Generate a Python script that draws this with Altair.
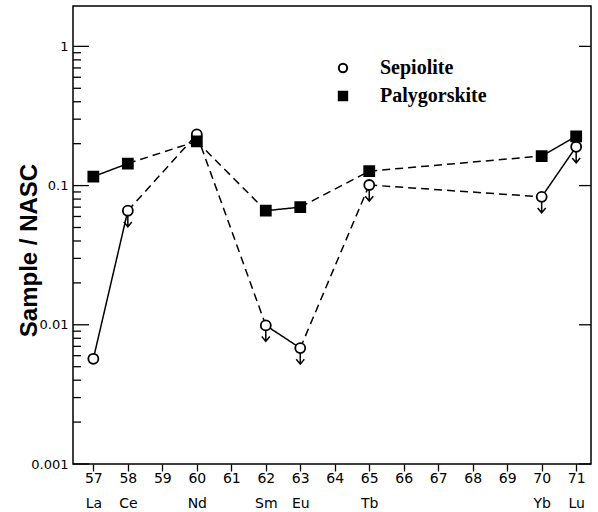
import json
import altair as alt
import pandas as pd

# ---- data ----
Z = [57, 58, 60, 62, 63, 65, 70, 71]
SYMBOLS = ['La', 'Ce', 'Nd', 'Sm', 'Eu', 'Tb', 'Yb', 'Lu']
sepiolite = [0.0057, 0.066, 0.233, 0.0099, 0.0068, 0.101, 0.083, 0.19]
palygorskite = [0.116, 0.144, 0.208, 0.066, 0.070, 0.127, 0.163, 0.226]
sep_upper = [False, True, False, True, True, True, True, True]
SERIES = ['Sepiolite', 'Palygorskite']
x_ticks = list(range(57, 72))
y_major = [0.001, 0.01, 0.1, 1]
y_minor_mult = [2, 3, 4, 5, 6, 7, 8, 9]

# ---- tables ----
pts = pd.DataFrame(
    [{'series': 'Sepiolite', 'z': z, 'value': v} for z, v in zip(Z, sepiolite)] +
    [{'series': 'Palygorskite', 'z': z, 'value': v} for z, v in zip(Z, palygorskite)]
)
seg_rows = []
for name, vals in (('Sepiolite', sepiolite), ('Palygorskite', palygorskite)):
    for i in range(len(Z) - 1):
        seg_rows.append({'series': name, 'z': Z[i], 'z2': Z[i + 1],
                         'value': vals[i], 'value2': vals[i + 1],
                         'style': 'solid' if Z[i + 1] - Z[i] == 1 else 'dashed'})
segs = pd.DataFrame(seg_rows)
arrows = pd.DataFrame([{'z': z, 'value': v} for z, v, u in zip(Z, sepiolite, sep_upper) if u])
major_df = pd.DataFrame({'value': y_major})
minor_df = pd.DataFrame({'value': [m * d for d in y_major[:-1] for m in y_minor_mult]})

sym_arr = [SYMBOLS[Z.index(t)] if t in Z else '' for t in x_ticks]
label_expr = "[datum.label, " + json.dumps(sym_arr) + "[datum.value - 57]]"

W, H = 518, 458
xscale = alt.Scale(domain=[56.41, 71.43], nice=False, zero=False)
yscale = alt.Scale(type='log', domain=[0.001, 1.95], nice=False)

xaxis = alt.Axis(values=x_ticks, labelExpr=label_expr, domain=False, grid=False,
                 tickSize=7, tickColor='black', tickWidth=1.3,
                 labelFont='DejaVu Sans', labelFontSize=14, labelColor='black',
                 labelLineHeight=25, labelPadding=0, labelAngle=0, title=None,
                 labelFlush=False, labelOverlap=False)
yaxis = alt.Axis(values=y_major, format='~g', domain=False, grid=False, ticks=False,
                 labelPadding=5, labelFont='DejaVu Sans', labelFontSize=13,
                 labelColor='black', labelFlush=False, labelOverlap=False,
                 title='Sample / NASC', titleFont='Liberation Sans',
                 titleFontWeight='bold', titleFontSize=24, titleColor='black',
                 titleX=-44, titleY=244, titleAngle=270, titleAlign='center',
                 titleBaseline='middle')
legend = alt.Legend(title=None, orient='none', legendX=260, legendY=52,
                    labelFont='Liberation Serif', labelFontWeight='bold',
                    labelFontSize=20, labelColor='black', symbolSize=70,
                    symbolStrokeWidth=2, symbolStrokeColor='black',
                    rowPadding=8, labelOffset=27, padding=0, symbolOpacity=1)

X = alt.X('z:Q', scale=xscale, axis=xaxis)
Y = alt.Y('value:Q', scale=yscale, axis=yaxis)

segments = alt.Chart(segs).mark_rule(color='black', strokeWidth=1.5).encode(
    x=X, x2='z2:Q', y=Y, y2='value2:Q',
    strokeDash=alt.StrokeDash('style:N', scale=alt.Scale(domain=['solid', 'dashed'],
                                                        range=[[1, 0], [8, 5]]), legend=None),
)

ARROW = "M0,0L0,2M-0.5,1.4L0,2L0.5,1.4"
arrow_layer = alt.Chart(arrows).mark_point(shape=ARROW, size=256, filled=False,
                                           stroke='black', strokeWidth=1.5, opacity=1).encode(
    x=X, y=Y)

ymaj_left = alt.Chart(major_df).mark_rule(color='black', strokeWidth=1.3).encode(
    y=Y, x=alt.value(0), x2=alt.value(16))
ymin_left = alt.Chart(minor_df).mark_rule(color='black', strokeWidth=1.3).encode(
    y=Y, x=alt.value(0), x2=alt.value(8))
ymaj_right = alt.Chart(major_df).mark_rule(color='black', strokeWidth=1.3).encode(
    y=Y, x=alt.value(W), x2=alt.value(W - 12))

points = alt.Chart(pts).mark_point(filled=True, size=100, stroke='black',
                                   strokeWidth=1.8, opacity=1).encode(
    x=X, y=Y,
    shape=alt.Shape('series:N', scale=alt.Scale(domain=SERIES, range=['circle', 'square']),
                    legend=legend),
    fill=alt.Fill('series:N', scale=alt.Scale(domain=SERIES, range=['white', 'black']),
                  legend=legend),
    stroke=alt.Stroke('series:N', scale=alt.Scale(domain=SERIES, range=['black', 'black']),
                      legend=legend),
)

chart = alt.layer(segments, arrow_layer, ymaj_left, ymin_left, ymaj_right, points).properties(
    width=W, height=H,
    padding={'left': 73, 'top': 6, 'right': 7, 'bottom': 48},
    autosize=alt.AutoSizeParams(type='none'),
    background='white',
).configure_view(stroke='black', strokeWidth=1.5)

chart.save("out.html", embed_options={"renderer": "svg", "actions": False})
